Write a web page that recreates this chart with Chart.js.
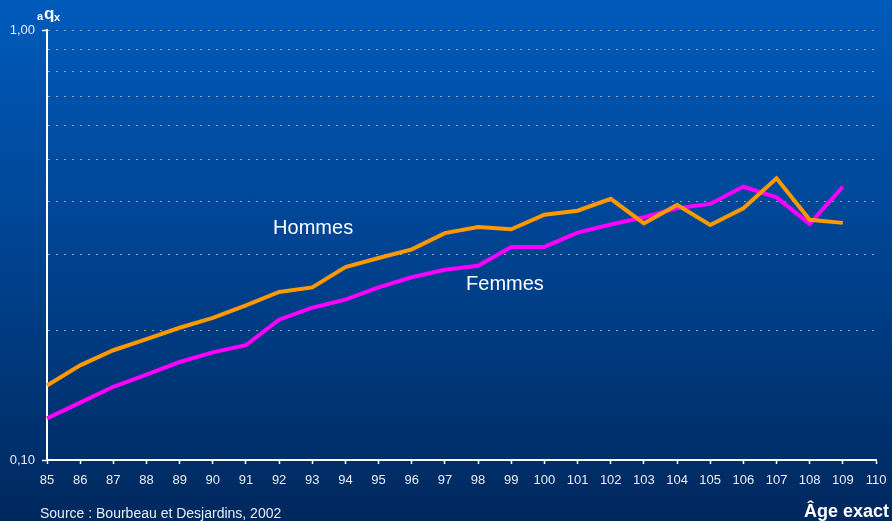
<!DOCTYPE html>
<html>
<head>
<meta charset="utf-8">
<script src="https://cdn.jsdelivr.net/npm/chart.js@4"></script>
<style>
  html, body { margin: 0; padding: 0; }
  body {
    width: 892px;
    height: 521px;
    overflow: hidden;
    background: linear-gradient(to bottom, #005bbc 0%, #00428f 50%, #00285d 100%);
  }
  #wrap { position: relative; width: 892px; height: 521px; }
</style>
</head>
<body>
<div id="wrap"><canvas id="myChart" width="892" height="521"></canvas></div>
<script>
const ages = [85, 86, 87, 88, 89, 90, 91, 92, 93, 94, 95, 96, 97, 98, 99, 100, 101, 102, 103, 104, 105, 106, 107, 108, 109, 110];

const hommes = [0.149, 0.166, 0.180, 0.191, 0.203, 0.214, 0.229, 0.246, 0.252, 0.281, 0.295, 0.309, 0.337, 0.348, 0.344, 0.372, 0.380, 0.405, 0.355, 0.392, 0.352, 0.385, 0.452, 0.362, 0.356];
const femmes = [0.125, 0.136, 0.148, 0.158, 0.169, 0.178, 0.185, 0.212, 0.226, 0.236, 0.252, 0.266, 0.277, 0.283, 0.313, 0.313, 0.338, 0.353, 0.367, 0.385, 0.394, 0.432, 0.408, 0.354, 0.432];

const yTicks = [0.1, 0.2, 0.3, 0.4, 0.5, 0.6, 0.7, 0.8, 0.9, 1.0];
const yLabels = { "0.1": "0,10", "1": "1,00" };

const FONT = "Arial, 'Liberation Sans', Helvetica, sans-serif";
const TXT = "#e6edf7";

// texts drawn on top of the chart
const extraText = {
  id: "extraText",
  afterDraw(chart) {
    const ctx = chart.ctx;
    const x = chart.scales.x;
    const y = chart.scales.y;
    ctx.save();
    ctx.fillStyle = "#ffffff";
    ctx.textBaseline = "alphabetic";
    ctx.textAlign = "left";

    // series labels
    ctx.font = "20px " + FONT;
    ctx.fillText("Hommes", x.getPixelForValue(92 - 85) - 6, y.getPixelForValue(0.335));
    ctx.fillText("Femmes", x.getPixelForValue(98 - 85) - 12, y.getPixelForValue(0.2485));

    // y axis title aqx
    ctx.font = "bold 11px " + FONT;
    ctx.fillText("a", 37, 20);
    ctx.font = "bold 17px " + FONT;
    ctx.fillText("q", 44, 19);
    ctx.font = "bold 11px " + FONT;
    ctx.fillText("x", 54, 21);

    // source and x axis title
    ctx.fillStyle = TXT;
    ctx.font = "14px " + FONT;
    ctx.fillText("Source : Bourbeau et Desjardins, 2002", 40, 518);
    ctx.fillStyle = "#ffffff";
    ctx.font = "bold 18px " + FONT;
    ctx.textAlign = "right";
    ctx.fillText("Âge exact", 889, 517);
    ctx.restore();
  }
};

const config = {
  type: "line",
  data: {
    labels: ages,
    datasets: [
      {
        label: "Hommes",
        data: hommes,
        borderColor: "#ff9900",
        borderWidth: 4,
        pointRadius: 0,
        tension: 0,
        fill: false,
      },
      {
        label: "Femmes",
        data: femmes,
        borderColor: "#ff00ff",
        borderWidth: 4,
        pointRadius: 0,
        tension: 0,
        fill: false,
      },
    ],
  },
  options: {
    responsive: false,
    animation: false,
    layout: { padding: { top: 30, right: 16, left: 0, bottom: 0 } },
    plugins: {
      legend: { display: false },
      tooltip: { enabled: false },
    },
    scales: {
      x: {
        type: "category",
        offset: false,
        afterFit: (s) => { s.height = 61; s.paddingLeft = 0; s.paddingRight = 0; },
        grid: {
          display: true,
          drawOnChartArea: false,
          drawTicks: true,
          tickLength: 4,
          tickColor: "#ffffff",
          tickWidth: 1.5,
        },
        border: { display: true, color: "#ffffff", width: 2 },
        ticks: {
          color: TXT,
          font: { family: FONT, size: 13 },
          padding: 9,
          maxRotation: 0,
          autoSkip: false,
        },
      },
      y: {
        type: "logarithmic",
        min: 0.1,
        max: 1,
        afterFit: (s) => { s.width = 47; s.paddingTop = 0; s.paddingBottom = 0; },
        afterBuildTicks: (s) => { s.ticks = yTicks.map((v) => ({ value: v })); },
        grid: {
          color: (c) => (c.tick && c.tick.value === 0.1 ? "rgba(0,0,0,0)" : "#9aa3ad"),
          lineWidth: 1,
          drawTicks: true,
          tickLength: 5,
          tickColor: (c) => (c.tick && (c.tick.value === 0.1 || c.tick.value === 1) ? "#ffffff" : "rgba(0,0,0,0)"),
          tickWidth: 1.5,
        },
        border: { display: true, color: "#ffffff", width: 2, dash: [2, 6] },
        ticks: {
          color: TXT,
          font: { family: FONT, size: 13 },
          padding: 7,
          callback: (v) => yLabels[String(v)] || "",
        },
      },
    },
  },
  plugins: [extraText],
};

new Chart(document.getElementById("myChart"), config);
</script>
</body>
</html>
